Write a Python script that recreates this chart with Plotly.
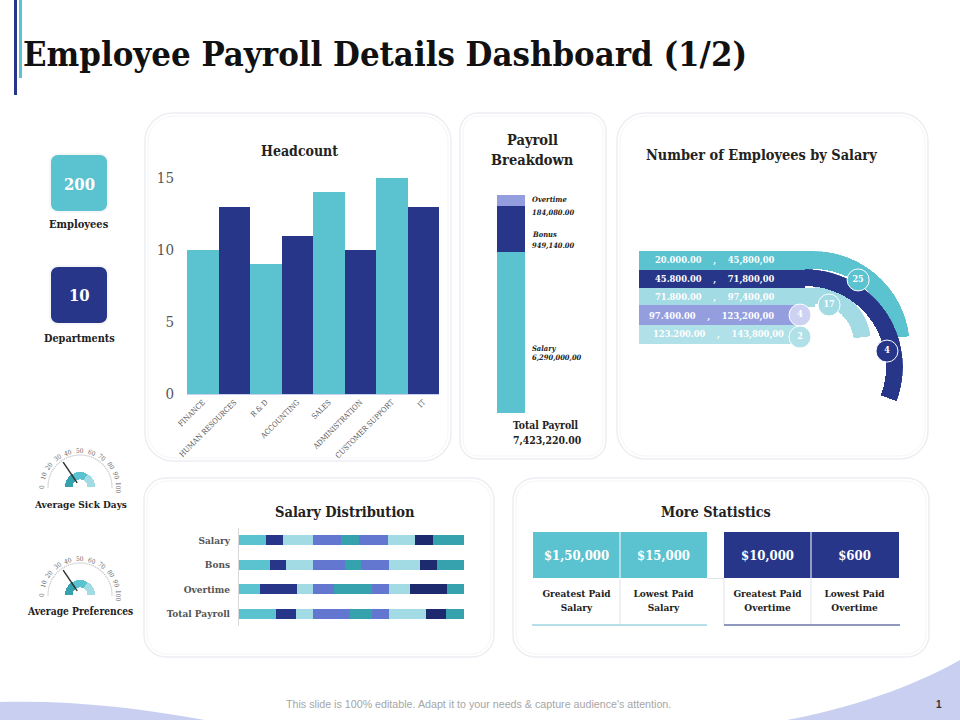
import math
import plotly.graph_objects as go

W, H = 960, 720
SERIF = "DejaVu Serif Condensed"
SANS = "Liberation Sans"
TEAL = "#5bc2cf"
NAVY = "#28368a"
LIGHT = "#a3dbe5"
PALE = "#b0e0e8"
LAVENDER = "#949edf"
BLUE = "#6376d0"
DTEAL = "#36a2ae"
DNAVY = "#1e2a6e"

# Headcount
departments = ["FINANCE", "HUMAN RESOURCES", "R & D", "ACCOUNTING", "SALES",
               "ADMINISTRATION", "CUSTOMER SUPPORT", "IT"]
headcount = [10, 13, 9, 11, 14, 10, 15, 13]

# Payroll breakdown, heights as they look in the picture (not to scale with the amounts)
payroll_parts = ["Salary", "Bonus", "Overtime"]
payroll_shares = [74, 21, 5]

# Employees by salary
salary_bands = ["20.000.00\u00a0\u00a0\u00a0\u00a0,\u00a0\u00a0\u00a0\u00a045,800,00",
                "45.800.00\u00a0\u00a0\u00a0\u00a0,\u00a0\u00a0\u00a0\u00a071,800,00",
                "71.800.00\u00a0\u00a0\u00a0\u00a0,\u00a0\u00a0\u00a0\u00a097,400,00",
                "97.400.00\u00a0\u00a0\u00a0\u00a0,\u00a0\u00a0\u00a0\u00a0123,200,00",
                "123.200.00\u00a0\u00a0\u00a0\u00a0,\u00a0\u00a0\u00a0\u00a0143,800,00"]
band_lengths = [174, 166, 176, 161, 161]
band_text_x = [75.5, 75.5, 75.5, 72.5, 79]
band_counts = ["25", "17", "4", "2", "4"]
count_r = [102, 66.5, 52.2, 30.4, 83.5]
count_theta = [58.6, 68.8, 95.5, 99.5, 11]

# Salary distribution
dist_rows = ["Salary", "Bons", "Overtime", "Total Payroll"]
dist_values = [
    [12.0, 13.8, 9.4, 16.5],
    [7.6, 7.1, 16.5, 8.9],
    [13.4, 12.1, 7.1, 7.6],
    [12.5, 14.3, 9.4, 16.5],
    [7.7, 7.1, 16.5, 9.4],
    [13.2, 12.1, 7.6, 7.6],
    [12.0, 13.8, 9.4, 16.5],
    [7.6, 7.6, 16.5, 8.9],
    [13.8, 12.1, 7.6, 8.0],
]
dist_colors = [TEAL, NAVY, LIGHT, BLUE, DTEAL, BLUE, LIGHT, DNAVY, DTEAL]

# More statistics
salary_stats = ["$1,50,000", "$15,000"]
salary_stat_names = [["Greatest\u00a0Paid", "Salary"], ["Lowest\u00a0Paid", "Salary"]]
overtime_stats = ["$10,000", "$600"]
overtime_stat_names = [["Greatest\u00a0Paid", "Overtime"], ["Lowest\u00a0Paid", "Overtime"]]

# Gauges
gauge_names = ["Average Sick Days", "Average Preferences"]
gauge_needles = [31, 31]
gauge_ticks = list(range(0, 101, 10))
gauge_dots = list(range(0, 101, 2))


def fx(px):
    return px / W


def fy(px):
    return 1 - px / H


def dom_x(a, b):
    return [fx(a), fx(b)]


def dom_y(top, bottom):
    return [fy(bottom), fy(top)]


def rounded(x0, y0, x1, y1, r):
    # path in page pixels, converted to paper fractions
    k = r * 0.45
    return (f"M {fx(x0 + r)} {fy(y0)} L {fx(x1 - r)} {fy(y0)} "
            f"C {fx(x1 - k)} {fy(y0)} {fx(x1)} {fy(y0 + k)} {fx(x1)} {fy(y0 + r)} "
            f"L {fx(x1)} {fy(y1 - r)} "
            f"C {fx(x1)} {fy(y1 - k)} {fx(x1 - k)} {fy(y1)} {fx(x1 - r)} {fy(y1)} "
            f"L {fx(x0 + r)} {fy(y1)} "
            f"C {fx(x0 + k)} {fy(y1)} {fx(x0)} {fy(y1 - k)} {fx(x0)} {fy(y1 - r)} "
            f"L {fx(x0)} {fy(y0 + r)} "
            f"C {fx(x0)} {fy(y0 + k)} {fx(x0 + k)} {fy(y0)} {fx(x0 + r)} {fy(y0)} Z")


def text(s, x, y, size=11, color="#222222", anchor="center", bold=True, family=SERIF, angle=0):
    fig.add_annotation(text=s, x=fx(x), y=fy(y), xref="paper", yref="paper", showarrow=False,
                       xanchor=anchor, yanchor="middle", textangle=angle,
                       font=dict(family=family, size=size, color=color,
                                 weight="bold" if bold else "normal"))


def line(x0, y0, x1, y1, color, width=1):
    fig.add_shape(type="line", xref="paper", yref="paper", x0=fx(x0), y0=fy(y0), x1=fx(x1), y1=fy(y1),
                  line=dict(color=color, width=width), layer="above")


def hidden_polar(cx, cy, rmax):
    return dict(domain=dict(x=dom_x(cx - rmax, cx + rmax), y=dom_y(cy - rmax, cy + rmax)),
                bgcolor="rgba(0,0,0,0)",
                radialaxis=dict(visible=False, range=[0, rmax]),
                angularaxis=dict(visible=False))


fig = go.Figure()

# Headcount columns
fig.add_trace(go.Bar(x=departments, y=headcount, xaxis="x", yaxis="y",
                     marker=dict(color=[TEAL, NAVY] * 4, line=dict(width=0))))

# Payroll stack
payroll_colors = [TEAL, NAVY, LAVENDER]
for part, share, color in zip(payroll_parts, payroll_shares, payroll_colors):
    fig.add_trace(go.Bar(x=["Payroll"], y=[share], name=part, xaxis="x2", yaxis="y2", width=1,
                         marker=dict(color=color, line=dict(width=0))))

# Salary distribution stack
for vals, color in zip(dist_values, dist_colors):
    fig.add_trace(go.Bar(y=dist_rows, x=vals, orientation="h", xaxis="x3", yaxis="y3", width=0.4,
                         marker=dict(color=color, line=dict(width=0))))

# Salary bands, straight part
fig.add_trace(go.Bar(y=[0, 1, 2, 3, 4], x=band_lengths, orientation="h", xaxis="x4", yaxis="y4",
                     width=[1, 1, 1, 1.15, 1],
                     marker=dict(color=[TEAL, NAVY, LIGHT, LAVENDER, PALE], line=dict(width=0))))

# Salary bands, curved part: (polar id, base, thickness, start, end, colour)
arcs = [("polar", 79, 18, 7, 90, TEAL),
        ("polar2", 39, 17, 7, 90, LIGHT),
        ("polar3", 81, 17, -20.5, 90, NAVY)]
for pid, base, thick, a0, a1, color in arcs:
    fig.add_trace(go.Barpolar(r=[thick], base=[base], theta=[(a0 + a1) / 2], width=[a1 - a0], subplot=pid,
                              marker=dict(color=color, line=dict(width=0))))

fig.add_trace(go.Scatterpolar(r=count_r, theta=count_theta, text=band_counts, subplot="polar4",
                              mode="markers+text", textposition="middle center",
                              textfont=dict(family=SERIF, size=9, color="white", weight="bold"),
                              marker=dict(size=22, color=[TEAL, LIGHT, "#cdd2f2", PALE, NAVY],
                                          line=dict(color="white", width=1))))

# Gauges
for pid, needle in zip(["polar5", "polar6"], gauge_needles):
    fig.add_trace(go.Barpolar(r=[7.5, 7.5, 7.5], base=[7.5, 7.5, 7.5], theta=[150, 90, 30], width=[60, 60, 60],
                              subplot=pid, marker=dict(color=[DTEAL, TEAL, LIGHT], line=dict(width=0))))
    fig.add_trace(go.Scatterpolar(r=[32] * len(gauge_dots), theta=[180 - v * 1.8 for v in gauge_dots],
                                  subplot=pid, mode="markers", marker=dict(size=1.5, color="#c8c8c8")))
    fig.add_trace(go.Scatterpolar(r=[5, 30], theta=[180 - needle * 1.8] * 2, subplot=pid, mode="lines",
                                  line=dict(color="#333333", width=1.5)))

fig.update_layout(
    width=W, height=H, margin=dict(l=0, r=0, t=0, b=0, pad=0),
    paper_bgcolor="white", plot_bgcolor="rgba(0,0,0,0)",
    barmode="stack", bargap=0, showlegend=False,
    xaxis=dict(domain=dom_x(187, 439), range=[-0.5, 7.5], tickangle=-45, ticks="", showgrid=False,
               automargin=False, tickfont=dict(family=SERIF, size=7.5, color="#555555"),
               showline=True, linecolor="#c9cff0", zeroline=False),
    yaxis=dict(domain=dom_y(178, 394), range=[0, 15], tickvals=[0, 5, 10, 15], showgrid=False, zeroline=False,
               automargin=False, ticks="", ticklabelstandoff=12, tickfont=dict(family=SERIF, size=15, color="#555555")),
    xaxis2=dict(domain=dom_x(497, 525), anchor="y2", visible=False, automargin=False),
    yaxis2=dict(domain=dom_y(195, 413), anchor="x2", range=[0, 100], visible=False, automargin=False),
    xaxis3=dict(domain=dom_x(239, 464), anchor="y3", range=[0, 100], visible=False, automargin=False),
    yaxis3=dict(domain=dom_y(528, 626), anchor="x3", range=[3.5, -0.5], showgrid=False, zeroline=False,
                automargin=False, showline=True, linecolor="#d9d9d9", ticks="", ticklabelstandoff=6,
                tickfont=dict(family=SERIF, size=10, color="#555555", weight="bold")),
    xaxis4=dict(domain=dom_x(639, 830), anchor="y4", range=[0, 191], visible=False, automargin=False),
    yaxis4=dict(domain=dom_y(251, 344), anchor="x4", range=[4.5, -0.5], visible=False, automargin=False),
    polar=hidden_polar(813, 348, 97),
    polar2=hidden_polar(815, 343, 56),
    polar3=hidden_polar(805, 367, 98),
    polar4=hidden_polar(805, 367, 120),
    polar5=hidden_polar(80, 487, 42),
    polar6=hidden_polar(80, 595, 42),
)

# Statistic tables, blank rows keep the text centred in the coloured cells
stat_tables = [(533, 707, TEAL, salary_stats, salary_stat_names),
               (724, 899, NAVY, overtime_stats, overtime_stat_names)]
for x0, x1, color, stats, names in stat_tables:
    fig.add_trace(go.Table(domain=dict(x=dom_x(x0, x1), y=dom_y(523, 640)),
                           header=dict(values=[["", s, ""] for s in stats], height=19.5, align="center",
                                       fill_color="rgba(0,0,0,0)", line=dict(color="rgba(0,0,0,0)", width=0),
                                       font=dict(family=SERIF, size=13, color="white", weight="bold")),
                           cells=dict(values=[[n[0], n[1]] for n in names], height=13.5, align="center",
                                      fill_color="rgba(0,0,0,0)", line=dict(color="rgba(0,0,0,0)", width=0),
                                      font=dict(family=SERIF, size=10, color="#222222", weight="bold"))))

# Card outlines
panels = [(145, 113, 451, 461, 28), (460, 113, 606, 459, 18), (617, 113, 928, 459, 28),
          (144, 478, 494, 657, 22), (513, 478, 929, 657, 22)]
shapes = []
for x0, y0, x1, y1, r in panels:
    shapes.append(dict(type="path", path=rounded(x0, y0, x1, y1, r), xref="paper", yref="paper",
                       fillcolor="white", line=dict(color="#eceef2", width=1.5), layer="below"))
    shapes.append(dict(type="path", path=rounded(x0 + 3, y0 + 3, x1 - 3, y1 - 3, r - 2), xref="paper", yref="paper",
                       fillcolor="white", line=dict(color="#f4f5f7", width=1), layer="below"))

# Coloured header cells of the statistic tables
for x0, x1, color, _, _ in stat_tables:
    shapes.append(dict(type="rect", xref="paper", yref="paper", x0=fx(x0), x1=fx(x1), y0=fy(578), y1=fy(532),
                       fillcolor=color, line=dict(width=0), layer="below"))

# KPI tiles
for y0, y1, color in [(155, 211, TEAL), (267, 323, NAVY)]:
    shapes.append(dict(type="path", path=rounded(49, y0 - 2, 109, y1 + 2, 9), xref="paper", yref="paper",
                       fillcolor="#f5f6f8", line=dict(width=0), layer="below"))
    shapes.append(dict(type="path", path=rounded(51, y0, 107, y1, 7), xref="paper", yref="paper",
                       fillcolor=color, line=dict(width=0), layer="below"))

# Accent bars and corner waves
shapes.append(dict(type="rect", xref="paper", yref="paper", x0=fx(14), x1=fx(17), y0=fy(95), y1=fy(0),
                   fillcolor=NAVY, line=dict(width=0), layer="below"))
shapes.append(dict(type="rect", xref="paper", yref="paper", x0=fx(19), x1=fx(22), y0=fy(78), y1=fy(0),
                   fillcolor=TEAL, line=dict(width=0), layer="below"))
shapes.append(dict(type="path", xref="paper", yref="paper", fillcolor="#c9cff0", line=dict(width=0), layer="below",
                   path=f"M {fx(0)} {fy(702)} C {fx(70)} {fy(700)} {fx(140)} {fy(708)} {fx(205)} {fy(720)} L {fx(0)} {fy(720)} Z"))
shapes.append(dict(type="path", xref="paper", yref="paper", fillcolor="#c9cff0", line=dict(width=0), layer="below",
                   path=f"M {fx(787)} {fy(720)} C {fx(850)} {fy(708)} {fx(910)} {fy(688)} {fx(960)} {fy(660)} L {fx(960)} {fy(720)} Z"))
fig.update_layout(shapes=shapes)

# Statistic dividers
line(620, 532, 620, 578, "white")
line(811, 532, 811, 578, "white")
line(620, 579, 620, 625, "#dfe3ea")
line(811, 579, 811, 625, "#dfe3ea")
line(724, 579, 724, 625, "#dfe3ea")
line(707, 578.5, 724, 578.5, "#dfe3ea")
line(532, 625, 707, 625, "#9dd6df", 1.5)
line(724, 625, 900, 625, "#6d76a8", 1.5)

# Slide text
text("Employee Payroll Details Dashboard (1/2)", 21, 54, size=34.4, color="#111111", anchor="left")
text("Headcount", 299, 151, size=14)
text("Payroll", 532, 140, size=14.5)
text("Breakdown", 532, 159, size=14.5)
text("Number of Employees by Salary", 761, 154, size=14.4)
text("Salary Distribution", 345, 511, size=14.5)
text("More Statistics", 716, 512, size=14.3)
text("200", 79, 184, size=16.5, color="white")
text("Employees", 79, 224, size=11)
text("10", 79, 295, size=16.5, color="white")
text("Departments", 79, 338, size=10.8)

for s, y in [("Overtime", 199), ("184,080.00", 212), ("Bonus", 235), ("949,140.00", 245),
             ("Salary", 348), ("6,290,000,00", 357)]:
    text(f"<i>{s}</i>", 530, y, size=7.5, anchor="left")
text("Total Payroll", 511, 425, size=10.3, anchor="left")
text("7,423,220.00", 511, 440, size=10.4, anchor="left")

for label, tx, y in zip(salary_bands, band_text_x, [260, 278.5, 297, 315.5, 334]):
    text(label, 639 + tx, y, size=9.3, color="white")

# Gauge labels
for name, cy, ny, size in zip(gauge_names, [487, 595], [505, 611], [10, 10.2]):
    text(name, 80, ny, size=size)
    for v in gauge_ticks:
        a = math.radians(180 - v * 1.8)
        text(str(v), 80 + 38 * math.cos(a), cy - 36 * math.sin(a), size=6.5, color="#666666", bold=False,
             angle=-90 + v * 1.8)

text("This slide is 100% editable. Adapt it to your needs & capture audience's attention.", 478, 704,
     size=10.7, color="#a6a6a6", bold=False, family=SANS)
text("1", 939, 704, size=10, color="#333333", family=SANS)

fig.write_html("out.html", config=dict(displayModeBar=False, responsive=False),
               post_script="document.body.style.margin='0';")
